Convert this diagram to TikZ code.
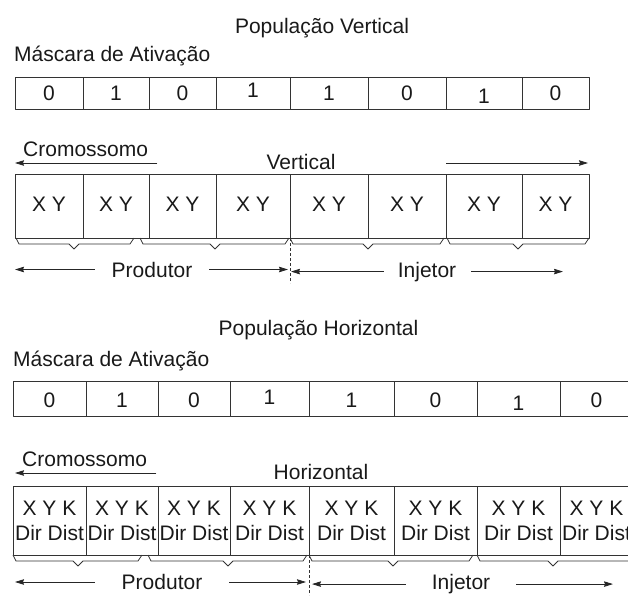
\documentclass[tikz,border=0pt]{standalone}
\usepackage{fontspec}
\setmainfont{Liberation Sans}
\usetikzlibrary{arrows.meta}
\tikzset{
  rotulo/.style={font=\fontsize{21}{25}\selectfont, inner sep=0pt, text=black!90},
  celula/.style={draw=black!80, line width=1pt},
  chave/.style={draw=black!80, line width=0.8pt},
  divisa/.style={draw=black!80, line width=0.8pt, dash pattern=on 3pt off 2pt},
  seta/.style={draw=black!85, line width=0.8pt, -{Stealth[length=9pt,width=5.5pt,inset=1pt]}},
}
\begin{document}
\begin{tikzpicture}[x=1pt,y=-1pt,line join=round]
  \useasboundingbox (0,0) rectangle (628,595);
  \clip (0,0) rectangle (628,595);
  %População vertical
  \node[rotulo,anchor=base] (tituloV) at (322,33) {População Vertical};
  \node[rotulo,anchor=base west] (mascaraV) at (14,61) {Máscara de Ativação};
  \foreach \a/\b/\v/\s [count=\i] in {15/83/0/0,83/149/1/0,149/216/0/0,216/290/1/-3,290/368/1/0,368/446/0/0,446/522/1/3,522/589/0/0}{
    \draw[celula] (\a,77) rectangle (\b,109);
    \node[rotulo,anchor=base] (mv\i) at ({(\a+\b)/2},{100.5+\s}) {\v};
  }
  %Cromossomo vertical
  \node[rotulo,anchor=base west] (cromV) at (23,156) {Cromossomo};
  \coordinate (cromVfim) at (15,163);
  \draw[seta] ([xshift=9pt]cromV.base east |- cromVfim) -- (cromVfim);
  \node[rotulo,anchor=base] (vert) at (301,169) {Vertical};
  \coordinate (vertA) at (446,163);
  \coordinate (vertB) at (588,163);
  \draw[seta] (vertA) -- (vertB);
  \foreach \a/\b [count=\i] in {15/83,83/149,149/216,216/290,290/368,368/446,446/522,522/589}{
    \draw[celula] (\a,174) rectangle (\b,238);
    \node[rotulo,anchor=base] (cv\i) at ({(\a+\b)/2},211) {X Y};
  }
  \foreach \a/\b/\t in {16/134/74,140/289/215,290/444/368,447/589/518}
    \draw[chave] (\a,238) -- (\a+3,244) -- (\t-5,244) -- (\t,249) -- (\t+5,244) -- (\b-4,244) -- (\b,238);
  \draw[divisa] (290,238) -- (290,283);
  %Produtor e injetor
  \node[rotulo,anchor=base] (prodV) at (152,277) {Produtor};
  \node[rotulo,anchor=base] (injV) at (427,277) {Injetor};
  \coordinate (esqV) at (15,271);
  \coordinate (meioV) at (290,271);
  \coordinate (dirV) at (563,271);
  \draw[seta] ([xshift=-17pt]prodV.west) -- (prodV.west -| esqV);
  \draw[seta] ([xshift=17pt]prodV.east) -- ([xshift=-2pt]prodV.east -| meioV);
  \draw[seta] ([xshift=-14pt]injV.west) -- ([xshift=1pt]injV.west -| meioV);
  \draw[seta] ([xshift=15pt]injV.east) -- (injV.east -| dirV);

  %População horizontal
  \node[rotulo,anchor=base] (tituloH) at (318.5,335) {População Horizontal};
  \node[rotulo,anchor=base west] (mascaraH) at (13,366) {Máscara de Ativação};
  \foreach \a/\b/\v/\s [count=\i] in {13/86/0/0,86/158/1/0,158/230/0/0,230/309/1/-3,309/394/1/0,394/477/0/0,477/560/1/3,560/633/0/0}{
    \draw[celula] (\a,381) rectangle (\b,416);
    \node[rotulo,anchor=base] (mh\i) at ({(\a+\b)/2},{407+\s}) {\v};
  }
  %Cromossomo horizontal
  \node[rotulo,anchor=base west] (cromH) at (22,466) {Cromossomo};
  \coordinate (cromHfim) at (15,473);
  \draw[seta] ([xshift=9pt]cromH.base east |- cromHfim) -- (cromHfim);
  \node[rotulo,anchor=base] (horiz) at (321,479) {Horizontal};
  \foreach \a/\b [count=\i] in {13/86,86/158,158/230,230/309,309/394,394/477,477/560,560/633}{
    \draw[celula] (\a,486) rectangle (\b,555);
    \node[rotulo,anchor=base] (ch\i) at ({(\a+\b)/2},515) {X Y K};
    \node[rotulo,anchor=base] (dh\i) at ({(\a+\b)/2},540) {Dir Dist};
  }
  \foreach \a/\b/\t in {13/142/78,148/307/228,309/473/393,477/640/553}
    \draw[chave] (\a,555) -- (\a+3,561) -- (\t-5,561) -- (\t,566) -- (\t+5,561) -- (\b-4,561) -- (\b,555);
  \draw[divisa] (309,555) -- (309,595);
  %Produtor e injetor
  \node[rotulo,anchor=base] (prodH) at (162,589.5) {Produtor};
  \node[rotulo,anchor=base] (injH) at (461,589.5) {Injetor};
  \coordinate (esqH) at (15,584);
  \coordinate (meioH) at (309,584);
  \coordinate (dirH) at (613,584);
  \draw[seta] ([xshift=-27pt]prodH.west) -- (prodH.west -| esqH);
  \draw[seta] ([xshift=27pt]prodH.east) -- ([xshift=-3pt]prodH.east -| meioH);
  \draw[seta] ([xshift=-26pt]injH.west) -- ([xshift=3pt]injH.west -| meioH);
  \draw[seta] ([xshift=26pt]injH.east) -- (injH.east -| dirH);
\end{tikzpicture}
\end{document}
